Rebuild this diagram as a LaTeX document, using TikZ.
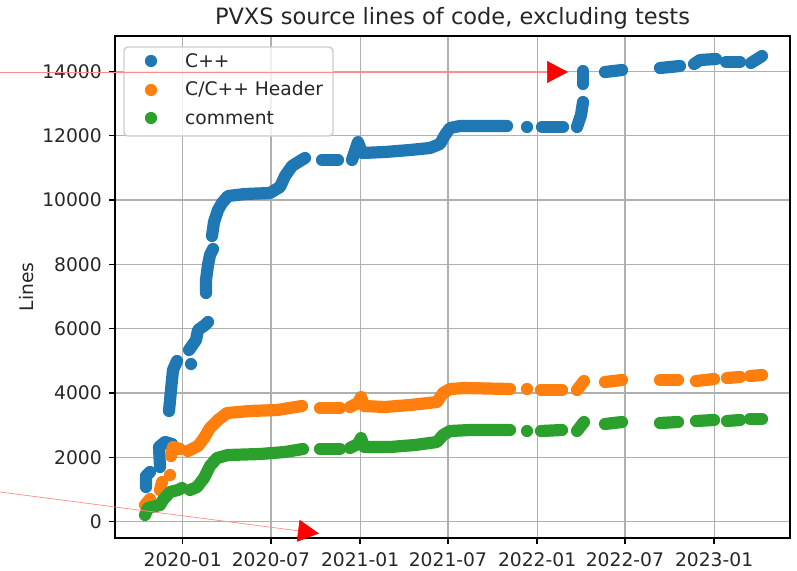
\documentclass[tikz,border=0pt]{standalone}
\usepackage{fontspec}
\setmainfont{DejaVu Sans}
\usetikzlibrary{arrows.meta}
\definecolor{cA}{HTML}{1F77B4}
\definecolor{cB}{HTML}{FF7F0E}
\definecolor{cC}{HTML}{2CA02C}
\definecolor{gridc}{HTML}{B0B0B0}
\definecolor{legc}{HTML}{CCCCCC}
\definecolor{txtc}{HTML}{262626}
\tikzset{
  ser/.style={line width=12.2pt, line cap=round, line join=round},
  sA/.style={ser, draw=cA},
  sB/.style={ser, draw=cB},
  sC/.style={ser, draw=cC},
  dotr/.style={radius=6.1pt},
  gridline/.style={draw=gridc, line width=1.2pt},
  tickmark/.style={draw=black, line width=1.3pt},
  frame/.style={draw=black, line width=1.3pt},
  ticklab/.style={font=\fontsize{18.7}{22}\selectfont, inner sep=0pt, text=txtc},
  titlelab/.style={font=\fontsize{22.5}{26}\selectfont, inner sep=0pt, text=txtc},
  legbox/.style={draw=legc, line width=1.4pt, fill=white, fill opacity=0.8, rounded corners=4pt},
  redarrow/.style={draw=red!45, line width=0.7pt, -{Triangle[length=21pt,width=22pt,color=red]}}
}
\begin{document}
\begin{tikzpicture}[x=1pt,y=-1pt]
\useasboundingbox (0,0) rectangle (797,570);
% grid
\foreach \gx/\lab [count=\i] in {182.7/2020-01,270.9/2020-07,360.1/2021-01,447.9/2021-07,537.1/2022-01,624.9/2022-07,714.1/2023-01}{
  \coordinate (gt\i) at (\gx,36);
  \coordinate (gb\i) at (\gx,538);
  \coordinate (tk\i) at (\gx,544);
  \draw[gridline] (gt\i) -- (gb\i);
  \draw[tickmark] (gb\i) -- (tk\i);
  \node[ticklab, anchor=north] (xl\i) at (\gx,552) {\lab};
}
\foreach \v [count=\j] in {0,2000,4000,6000,8000,10000,12000,14000}{
  \pgfmathsetmacro{\gy}{521.5-\v*0.0321429}
  \coordinate (gl\j) at (115,\gy);
  \coordinate (gr\j) at (790,\gy);
  \coordinate (tl\j) at (109,\gy);
  \draw[gridline] (gl\j) -- (gr\j);
  \draw[tickmark] (tl\j) -- (gl\j);
  \node[ticklab, anchor=east] (yl\j) at (102,\gy) {\v};
}
% C++ series
\draw[sA] (146,487) -- (146,476) -- (150,472);
\draw[sA] (160,467) -- (159,447) -- (165,442) -- (172,444);
\draw[sA] (169,411) -- (171,390) -- (173,370) -- (177,361);
\fill[cA] (191,364) circle[dotr];
\draw[sA] (189,350) -- (196,340) -- (198,330) -- (205,325) -- (208,322);
\draw[sA] (206,293) -- (206,280) -- (208,265) -- (210,255) -- (213,249);
\draw[sA] (212,236) -- (214,222) -- (218,210) -- (222,203) -- (228,196) -- (245,194) -- (270,193) -- (280,187) -- (285,176) -- (292,166) -- (300,161) -- (305,158);
\draw[sA] (322,160) -- (338,160);
\draw[sA] (352,160) -- (356,148) -- (358,142) -- (362,153) -- (385,152) -- (410,150) -- (430,148) -- (440,144) -- (445,135) -- (450,128) -- (460,126) -- (507,126);
\fill[cA] (527,127) circle[dotr];
\draw[sA] (542,127) -- (563,127);
\draw[sA] (577,127) -- (581,115) -- (583,102);
\draw[sA] (583,84) -- (583,71);
\draw[sA] (605,72) -- (622,70);
\draw[sA] (660,68) -- (680,66);
\draw[sA] (694,64) -- (700,60) -- (716,59);
\draw[sA] (726,62) -- (740,62);
\draw[sA] (751,63) -- (762,56);
% C/C++ Header series
\draw[sB] (145,505) -- (150,499);
\draw[sB] (160,490) -- (162,482);
\fill[cB] (170,475) circle[dotr];
\draw[sB] (171,456) -- (173,447) -- (180,449);
\draw[sB] (188,451) -- (198,446) -- (204,438) -- (210,428) -- (218,420) -- (227,413) -- (250,411) -- (277,410) -- (302,406);
\draw[sB] (320,408) -- (340,408);
\draw[sB] (350,407) -- (358,403) -- (361,397) -- (364,406) -- (385,407) -- (410,405) -- (437,402) -- (443,393) -- (450,389) -- (465,388) -- (510,389);
\fill[cB] (527,389) circle[dotr];
\draw[sB] (541,390) -- (562,390);
\draw[sB] (577,390) -- (584,381);
\draw[sB] (605,382) -- (622,380);
\draw[sB] (660,380) -- (678,380);
\draw[sB] (696,381) -- (714,379);
\draw[sB] (727,378) -- (740,377);
\draw[sB] (750,376) -- (762,375);
% comment series
\draw[sC] (145,515) -- (148,508) -- (160,505) -- (163,500) -- (170,492) -- (178,490) -- (182,488);
\draw[sC] (190,490) -- (197,487) -- (204,478) -- (210,466) -- (217,458) -- (228,455) -- (260,454) -- (285,452) -- (303,449);
\draw[sC] (320,449) -- (340,449);
\draw[sC] (350,448) -- (358,444) -- (361,438) -- (364,447) -- (390,447) -- (415,445) -- (437,442) -- (443,435) -- (450,431) -- (470,430) -- (510,430);
\fill[cC] (527,431) circle[dotr];
\draw[sC] (541,431) -- (562,430);
\draw[sC] (577,431) -- (584,422);
\draw[sC] (605,424) -- (622,422);
\draw[sC] (660,423) -- (678,422);
\draw[sC] (696,421) -- (714,420);
\draw[sC] (727,421) -- (740,420);
\draw[sC] (750,419) -- (762,419);
% frame
\draw[frame] (115,36) rectangle (790,538);
% labels
\node[titlelab, anchor=base] (title) at (452.5,24) {PVXS source lines of code, excluding tests};
\node[ticklab, rotate=90] (ylab) at (27,287) {Lines};
% legend
\draw[legbox] (124,47) rectangle (333,136);
\fill[cA] (151,61) circle[dotr];
\fill[cB] (151,90) circle[dotr];
\fill[cC] (151,118) circle[dotr];
\node[ticklab, anchor=base west] (legA) at (185,67) {C++};
\node[ticklab, anchor=base west] (legB) at (185,95.5) {C/C++ Header};
\node[ticklab, anchor=base west] (legC) at (185,124) {comment};
% red annotation arrows
\coordinate (rAs) at (0,72);
\coordinate (rAe) at (568,72);
\coordinate (rBs) at (0,492);
\coordinate (rBe) at (319,533.5);
\draw[redarrow] (rAs) -- (rAe);
\draw[redarrow] (rBs) -- (rBe);
\end{tikzpicture}
\end{document}
